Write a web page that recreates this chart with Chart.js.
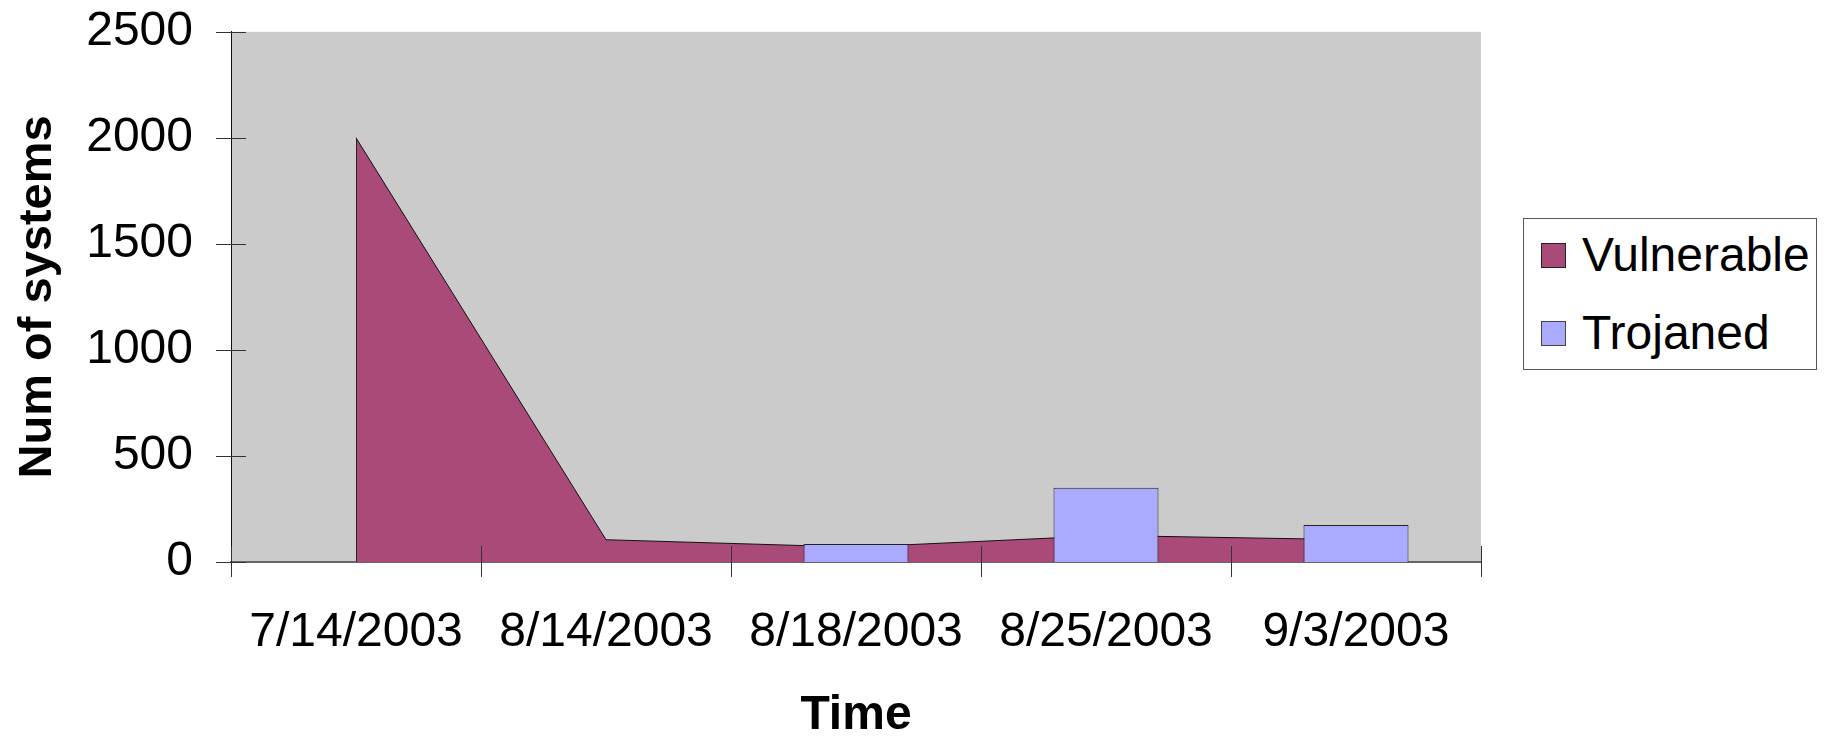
<!DOCTYPE html>
<html>
<head>
<meta charset="utf-8">
<script src="https://cdn.jsdelivr.net/npm/chart.js@4.4.0/dist/chart.umd.min.js"></script>
<style>
  html, body { margin: 0; padding: 0; background: #fff; }
  #wrap { position: relative; width: 1831px; height: 738px; }
  #legend {
    position: absolute; left: 1523px; top: 218px; width: 294px; height: 152px;
    border: 1px solid #555; background: #fff; box-sizing: border-box;
    font-family: "Liberation Sans", Arial, sans-serif; font-size: 48px; color: #000;
  }
  .item { position: absolute; left: 17px; height: 48px; line-height: 48px; display: flex; align-items: center; }
  .box { width: 25px; height: 25px; box-sizing: border-box; margin-right: 16px; }
</style>
</head>
<body>
<div id="wrap">
  <canvas id="chart" width="1831" height="738"></canvas>
  <div id="legend"></div>
</div>
<script>
  // data
  const categories = ["7/14/2003", "8/14/2003", "8/18/2003", "8/25/2003", "9/3/2003"];
  const vulnerable = [2000, 105, 70, 125, 105];
  const trojaned   = [null, null, 85, 350, 175];
  const yTicks     = [0, 500, 1000, 1500, 2000, 2500];

  const FONT = '"Liberation Sans", Arial, sans-serif';
  const VULN_COLOR = '#aa4a78';
  const TROJ_COLOR = '#aaaaff';

  // gray plot background
  const plotBg = {
    id: 'plotBg',
    beforeDraw(chart) {
      const {ctx, chartArea: a} = chart;
      ctx.save();
      ctx.fillStyle = '#cbcbcb';
      ctx.fillRect(a.left, a.top, a.right - a.left, a.bottom - a.top);
      ctx.restore();
    }
  };

  // excel style ticks that cross the axis, plus left edge of the area
  const crossTicks = {
    id: 'crossTicks',
    afterDatasetsDraw(chart) {
      const {ctx, chartArea, scales: {x, y}} = chart;
      const base = y.getPixelForValue(0);
      ctx.save();
      ctx.strokeStyle = '#222';
      ctx.lineWidth = 1;

      const meta = chart.getDatasetMeta(0);
      const p0 = meta.data[0];
      ctx.beginPath();
      ctx.moveTo(Math.round(p0.x) + 0.5, p0.y);
      ctx.lineTo(Math.round(p0.x) + 0.5, base);
      ctx.stroke();

      ctx.strokeStyle = '#333';
      ctx.beginPath();
      yTicks.forEach(v => {
        const py = Math.round(y.getPixelForValue(v)) + 0.5;
        ctx.moveTo(chartArea.left - 15, py);
        ctx.lineTo(chartArea.left + 15, py);
      });
      for (let i = 0; i <= categories.length; i++) {
        const px = Math.round(x.getPixelForValue(i - 0.5)) + 0.5;
        ctx.moveTo(px, base - 16);
        ctx.lineTo(px, base + 15);
      }
      ctx.stroke();
      ctx.restore();
    }
  };

  const chart = new Chart(document.getElementById('chart'), {
    type: 'bar',
    data: {
      labels: categories,
      datasets: [
        {
          type: 'line',
          label: 'Vulnerable',
          data: vulnerable,
          backgroundColor: VULN_COLOR,
          borderColor: '#111',
          borderWidth: 1,
          fill: 'origin',
          pointRadius: 0,
          tension: 0,
          order: 2
        },
        {
          type: 'bar',
          label: 'Trojaned',
          data: trojaned,
          backgroundColor: TROJ_COLOR,
          borderColor: '#222',
          borderWidth: 1,
          categoryPercentage: 1,
          barPercentage: 0.42,
          order: 1
        }
      ]
    },
    options: {
      responsive: false,
      animation: false,
      devicePixelRatio: 1,
      layout: { padding: { top: 31, right: 350, bottom: 0, left: 0 } },
      plugins: { legend: { display: false }, tooltip: { enabled: false } },
      scales: {
        x: {
          offset: true,
          grid: { display: false, drawTicks: false },
          border: { display: true, color: '#666', width: 2 },
          ticks: { color: '#000', font: { family: FONT, size: 48 }, padding: 42, maxRotation: 0, autoSkip: false },
          title: { display: true, text: 'Time', color: '#000', font: { family: FONT, size: 48, weight: 'bold', lineHeight: 1 }, padding: -2 },
          afterFit(s) { s.height = 176; }
        },
        y: {
          min: 0,
          max: 2500,
          grid: { display: false, drawTicks: true, tickLength: 35 },
          border: { display: true, color: '#111', width: 1 },
          ticks: { stepSize: 500, color: '#000', font: { family: FONT, size: 48 }, padding: 3, callback: v => String(v) },
          title: { display: true, text: 'Num of systems', color: '#000', font: { family: FONT, size: 47, weight: 'bold', lineHeight: 1.2 }, padding: { top: 10, bottom: 0 } },
          afterFit(s) { s.width = 231; }
        }
      }
    },
    plugins: [plotBg, crossTicks]
  });

  // legend box
  const legend = document.getElementById('legend');
  [['Vulnerable', VULN_COLOR, '#222', 12], ['Trojaned', TROJ_COLOR, '#444', 90]].forEach(([name, fill, edge, top]) => {
    const item = document.createElement('div');
    item.className = 'item';
    item.style.top = top + 'px';
    item.innerHTML = '<span class="box" style="background:' + fill + ';border:1px solid ' + edge + '"></span><span>' + name + '</span>';
    legend.appendChild(item);
  });
</script>
</body>
</html>
